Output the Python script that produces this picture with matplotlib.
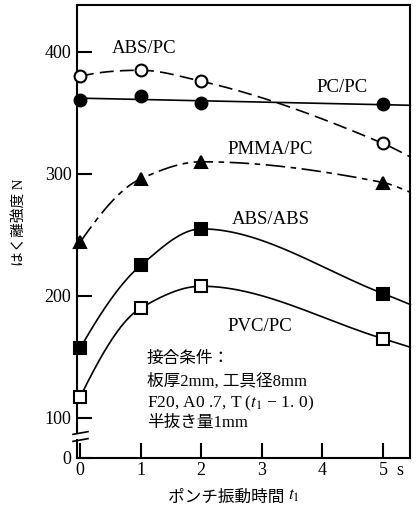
import numpy as np
import matplotlib
matplotlib.use("Agg")
import matplotlib.pyplot as plt
import matplotlib.transforms as mtransforms

plt.rcParams['font.family'] = ['Liberation Serif', 'Noto Sans CJK JP']
plt.rcParams['mathtext.fontset'] = 'stix'
plt.rcParams['lines.scale_dashes'] = False

# ---- data ----
t = [0, 1, 2, 5]
abs_pc = [380, 385, 376, 325]
pc_pc = [361, 364, 358, 357]
pmma_pc = [244, 296, 310, 293]
abs_abs = [157, 225, 255, 202]
pvc_pc = [117, 190, 208, 165]
# where each drawn smooth curve meets the right frame
t_end = 5.45
curve_end = {'ABS/PC': 314, 'PMMA/PC': 285, 'ABS/ABS': 193, 'PVC/PC': 158}
xticks = [0, 1, 2, 3, 4, 5]
yticks = [100, 200, 300, 400]


def pchip(x, y, xs):
    x = np.asarray(x, float); y = np.asarray(y, float)
    h = np.diff(x); d = np.diff(y) / h
    n = len(x); m = np.zeros(n)
    for k in range(1, n - 1):
        if d[k - 1] * d[k] > 0:
            w1 = 2 * h[k] + h[k - 1]; w2 = h[k] + 2 * h[k - 1]
            m[k] = (w1 + w2) / (w1 / d[k - 1] + w2 / d[k])

    def edge(h0, h1, d0, d1):
        mm = ((2 * h0 + h1) * d0 - h0 * d1) / (h0 + h1)
        if np.sign(mm) != np.sign(d0):
            mm = 0.0
        elif np.sign(d0) != np.sign(d1) and abs(mm) > abs(3 * d0):
            mm = 3 * d0
        return mm
    m[0] = edge(h[0], h[1], d[0], d[1])
    m[-1] = edge(h[-1], h[-2], d[-1], d[-2])
    xs = np.asarray(xs, float)
    idx = np.clip(np.searchsorted(x, xs) - 1, 0, n - 2)
    hh = h[idx]; s = (xs - x[idx]) / hh
    h00 = 2 * s**3 - 3 * s**2 + 1; h10 = s**3 - 2 * s**2 + s
    h01 = -2 * s**3 + 3 * s**2; h11 = s**3 - s**2
    return h00 * y[idx] + h10 * hh * m[idx] + h01 * y[idx + 1] + h11 * hh * m[idx + 1]


fig = plt.figure(figsize=(4.16, 5.11), dpi=100)
ax = fig.add_axes([77 / 416, 1 - 458 / 511, 333 / 416, 453 / 511])
ax.set_xlim(-0.05, 5.445)
ax.set_ylim(67.2, 438.5)

series = [
    ('ABS/PC', abs_pc, 'o', 'white', (0, (10, 4.5))),
    ('PC/PC', pc_pc, 'o', 'black', '-'),
    ('PMMA/PC', pmma_pc, '^', 'black', (0, (14, 4, 4, 4))),
    ('ABS/ABS', abs_abs, 's', 'black', '-'),
    ('PVC/PC', pvc_pc, 's', 'white', '-'),
]
xs = np.linspace(0, t_end, 300)
for name, vals, mk, fc, ls in series:
    if name in curve_end:
        ys = pchip(list(t) + [t_end], list(vals) + [curve_end[name]], xs)
    else:  # PC/PC is drawn as a straight fitted line
        ys = np.polyval(np.polyfit(t, vals, 1), xs)
    ax.plot(xs, ys, color='black', lw=1.2, linestyle=ls, clip_on=False, zorder=2)
    ax.plot(t, vals, linestyle='none', marker=mk, ms=8.5, mfc=fc, mec='black',
            mew=1.5, clip_on=False, zorder=3)

for sp in ax.spines.values():
    sp.set_linewidth(1.5)

ax.set_xticks(xticks)
ax.set_xticklabels([str(v) for v in xticks])
ax.set_yticks([67.2] + yticks)
ax.set_yticklabels(['0'] + [str(v) for v in yticks])
ax.tick_params(direction='in', length=11, width=1.5, labelsize=13)
ax.tick_params(axis='x', pad=3)
ax.tick_params(axis='y', pad=4)

# axis break mark on the left spine
tr = ax.transAxes
y1 = 1 - (433 - 5) / 453
y2 = 1 - (440 - 5) / 453
ax.plot([0, 0], [y2 + 0.002, y1 - 0.002], transform=tr, color='white', lw=3,
        clip_on=False, zorder=4, solid_capstyle='butt')
for yy in (y1, y2):
    ax.plot([-0.012, 0.033], [yy - 0.003, yy + 0.003], transform=tr, color='black',
            lw=1.2, clip_on=False, zorder=5)

# series labels
fs = 13.5
ax.text(1.06, 403, 'ABS/PC', ha='center', va='center', fontsize=fs)
ax.text(4.32, 371, 'PC/PC', ha='center', va='center', fontsize=fs)
ax.text(3.14, 320, 'PMMA/PC', ha='center', va='center', fontsize=fs)
ax.text(3.14, 263, 'ABS/ABS', ha='center', va='center', fontsize=fs)
ax.text(2.97, 175, 'PVC/PC', ha='center', va='center', fontsize=fs)

# conditions block
fa = 12
ax.text(1.10, 148.4, '接合条件：', ha='left', va='center', fontsize=fa)
ax.text(1.10, 130.3, '板厚2mm, 工具径8mm', ha='left', va='center', fontsize=fa)
ax.text(1.10, 112.3, 'F20, A0 .7, T ($t_1$ − 1. 0)', ha='left', va='center', fontsize=fa + 0.5)
ax.text(1.10, 95.9, '半抜き量1mm', ha='left', va='center', fontsize=fa)

# unit "s" beside the tick labels
blend = mtransforms.blended_transform_factory(ax.transData, ax.transAxes)
ax.text(5.28, -0.009, 's', transform=blend, ha='center', va='top', fontsize=13)

# axis titles
fig.text(20 / 416, 1 - 222 / 511, 'はく離強度 N', rotation=90,
         ha='center', va='center', fontsize=10.5)
xl = fig.text(228 / 416, 1 - 498 / 511, 'ポンチ振動時間 ', ha='center', va='center',
              fontsize=12)
ax.annotate('$t_1$', xy=(1, 0.1), xycoords=xl, ha='left', va='bottom', fontsize=12.5)

fig.savefig('out.png', dpi=100)
